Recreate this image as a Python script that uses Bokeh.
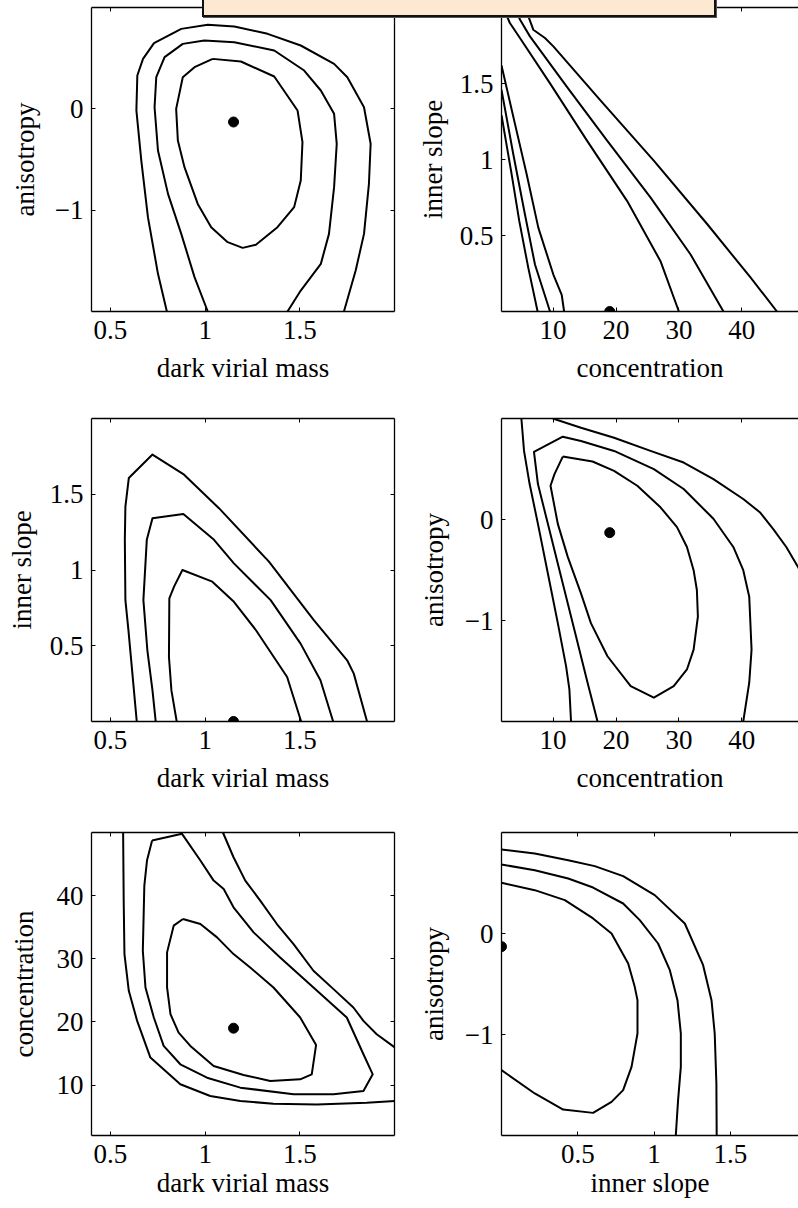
from bokeh.plotting import figure
from bokeh.models import Range1d, LinearAxis, FixedTicker, Div
from bokeh.layouts import gridplot, column
from bokeh.embed import file_html
from bokeh.resources import INLINE

# ---------------- data ----------------
# best-fit point
best_mass = 1.15
best_conc = 19.0
best_slope = 0.0
best_aniso = -0.13

# tick values
mass_ticks = [0.5, 1, 1.5]
conc_ticks = [10, 20, 30, 40]
slope_ticks = [0.5, 1, 1.5]
aniso_ticks = [-1, 0]

# Panel 1: dark virial mass vs anisotropy
p1_outer_x = [0.798, 0.751, 0.698, 0.663, 0.637, 0.642, 0.672, 0.730, 0.874, 1.014, 1.154, 1.330, 1.505, 1.681, 1.751, 1.839, 1.874, 1.865, 1.839, 1.795, 1.733]
p1_outer_y = [-2.0, -1.628, -1.069, -0.510, -0.016, 0.329, 0.493, 0.648, 0.789, 0.829, 0.813, 0.740, 0.625, 0.444, 0.312, 0.016, -0.345, -0.740, -1.234, -1.595, -2.0]
p1_mid_x = [1.014, 0.944, 0.874, 0.804, 0.751, 0.733, 0.742, 0.786, 0.882, 0.996, 1.154, 1.365, 1.523, 1.611, 1.681, 1.695, 1.681, 1.654, 1.611, 1.505, 1.435]
p1_mid_y = [-2.0, -1.661, -1.234, -0.839, -0.411, 0.016, 0.312, 0.510, 0.641, 0.674, 0.658, 0.576, 0.378, 0.181, -0.049, -0.345, -0.773, -1.234, -1.530, -1.793, -2.0]
p1_in_x = [1.040, 1.189, 1.365, 1.488, 1.514, 1.505, 1.470, 1.382, 1.268, 1.198, 1.119, 1.032, 0.961, 0.891, 0.856, 0.847, 0.882, 0.944, 1.040]
p1_in_y = [0.493, 0.467, 0.319, -0.016, -0.329, -0.707, -0.970, -1.168, -1.342, -1.372, -1.316, -1.168, -0.938, -0.576, -0.312, 0.0, 0.312, 0.411, 0.493]

# Panel 2: concentration vs inner slope
p2_a_x = [1.8, 3.40, 4.62, 6.06, 7.54]
p2_a_y = [1.291, 0.905, 0.596, 0.287, 0.0]
p2_b_x = [1.8, 3.66, 5.52, 7.12, 9.51]
p2_b_y = [1.457, 1.038, 0.640, 0.309, 0.0]
p2_c_x = [1.8, 3.93, 5.79, 7.65, 10.04, 11.37, 11.75]
p2_c_y = [1.618, 1.236, 0.905, 0.552, 0.243, 0.110, 0.0]
p2_d_x = [2.07, 3.13, 4.73, 9.51, 15.36, 21.75, 27.07, 29.99]
p2_d_y = [2.0, 1.898, 1.799, 1.501, 1.126, 0.728, 0.331, 0.0]
p2_e_x = [3.93, 4.73, 6.32, 12.17, 18.56, 25.47, 31.85, 37.07]
p2_e_y = [2.0, 1.921, 1.810, 1.479, 1.126, 0.751, 0.375, 0.0]
p2_f_x = [5.52, 6.06, 6.85, 8.71, 10.04, 17.49, 26.0, 34.51, 41.43, 45.58]
p2_f_y = [2.0, 1.943, 1.854, 1.799, 1.744, 1.391, 0.993, 0.574, 0.221, 0.0]

# Panel 3: dark virial mass vs inner slope
p3_outer_x = [0.639, 0.616, 0.595, 0.579, 0.576, 0.579, 0.597, 0.722, 0.889, 1.073, 1.337, 1.574, 1.750, 1.785, 1.855]
p3_outer_y = [0.0, 0.316, 0.603, 0.801, 1.199, 1.419, 1.607, 1.762, 1.629, 1.408, 1.055, 0.669, 0.404, 0.316, 0.0]
p3_mid_x = [0.739, 0.722, 0.695, 0.674, 0.692, 0.722, 0.885, 1.047, 1.152, 1.346, 1.504, 1.609, 1.676]
p3_mid_y = [0.0, 0.205, 0.470, 0.801, 1.199, 1.342, 1.369, 1.199, 1.044, 0.801, 0.514, 0.272, 0.0]
p3_in_x = [0.850, 0.822, 0.809, 0.811, 0.836, 0.880, 1.038, 1.152, 1.266, 1.433, 1.507]
p3_in_y = [0.0, 0.205, 0.426, 0.812, 0.890, 1.0, 0.923, 0.790, 0.607, 0.294, 0.0]

# Panel 4: concentration vs anisotropy
p4_outer1_x = [4.96, 5.38, 6.27, 7.59, 9.17, 10.75, 12.06, 12.59, 12.85]
p4_outer1_y = [1.0, 0.679, 0.351, -0.043, -0.534, -1.026, -1.452, -1.682, -2.0]
p4_outer2_x = [9.96, 14.43, 19.69, 25.48, 30.75, 35.48, 40.22, 42.85, 44.96, 47.06, 48.90, 49.96]
p4_outer2_y = [1.0, 0.908, 0.810, 0.679, 0.564, 0.400, 0.203, 0.072, -0.092, -0.272, -0.469, -0.584]
p4_mid_x = [17.06, 15.48, 13.38, 11.27, 9.17, 7.59, 6.96, 11.54, 14.43, 19.69, 26.01, 30.75, 35.48, 38.64, 40.22, 41.17, 41.54, 41.17, 40.22]
p4_mid_y = [-2.0, -1.616, -1.092, -0.567, -0.043, 0.351, 0.669, 0.820, 0.777, 0.679, 0.498, 0.302, 0.007, -0.272, -0.502, -0.764, -1.289, -1.616, -2.0]
p4_in_x = [11.54, 16.27, 19.69, 23.38, 27.06, 29.69, 31.27, 32.33, 32.85, 33.01, 32.33, 31.27, 29.17, 26.01, 22.33, 18.64, 16.01, 14.43, 12.33, 10.75, 9.59, 10.22, 11.54]
p4_in_y = [0.623, 0.574, 0.482, 0.334, 0.121, -0.075, -0.272, -0.502, -0.698, -0.961, -1.289, -1.485, -1.649, -1.764, -1.649, -1.354, -1.026, -0.731, -0.370, -0.043, 0.334, 0.449, 0.623]

# Panel 5: dark virial mass vs concentration
p5_outer1_x = [0.567, 0.570, 0.574, 0.597, 0.641, 0.711, 0.869, 1.027, 1.186, 1.361, 1.590, 1.853, 2.003]
p5_outer1_y = [50.0, 39.21, 30.74, 24.92, 20.16, 14.34, 10.11, 8.25, 7.46, 7.04, 6.93, 7.20, 7.46]
p5_outer2_x = [1.094, 1.150, 1.212, 1.291, 1.379, 1.467, 1.572, 1.678, 1.783, 1.836, 1.906, 2.003]
p5_outer2_y = [50.0, 46.08, 42.38, 39.21, 35.50, 32.33, 28.10, 25.19, 22.28, 20.16, 18.04, 15.93]
p5_mid_x = [0.720, 0.878, 0.975, 1.045, 1.098, 1.150, 1.256, 1.396, 1.572, 1.748, 1.836, 1.885, 1.836, 1.678, 1.467, 1.186, 1.010, 0.869, 0.781, 0.729, 0.685, 0.671, 0.679, 0.693, 0.720]
p5_mid_y = [48.73, 49.79, 45.56, 42.38, 41.06, 38.15, 34.18, 30.21, 25.45, 20.69, 14.87, 11.69, 9.05, 8.52, 8.52, 9.58, 11.16, 13.28, 16.19, 20.69, 25.45, 31.27, 41.59, 45.56, 48.73]
p5_in_x = [0.883, 0.975, 1.063, 1.150, 1.238, 1.361, 1.502, 1.586, 1.563, 1.502, 1.344, 1.203, 1.045, 0.922, 0.860, 0.817, 0.799, 0.799, 0.834, 0.883]
p5_in_y = [36.30, 35.50, 33.39, 30.74, 28.62, 25.45, 20.69, 16.35, 11.69, 10.90, 10.63, 11.59, 13.02, 16.19, 18.31, 21.22, 25.45, 31.01, 35.24, 36.30]

# Panel 6: inner slope vs anisotropy
p6_outer_x = [0.0, 0.218, 0.437, 0.611, 0.797, 1.004, 1.201, 1.321, 1.376, 1.397, 1.408, 1.410]
p6_outer_y = [0.832, 0.792, 0.726, 0.667, 0.568, 0.380, 0.099, -0.314, -0.660, -0.990, -1.485, -2.0]
p6_mid_x = [0.0, 0.218, 0.437, 0.600, 0.797, 0.906, 1.026, 1.103, 1.153, 1.175, 1.175, 1.157, 1.142]
p6_mid_y = [0.683, 0.627, 0.545, 0.455, 0.297, 0.132, -0.099, -0.363, -0.660, -0.990, -1.320, -1.650, -2.0]
p6_in_x = [0.0, 0.218, 0.415, 0.600, 0.721, 0.830, 0.873, 0.891, 0.891, 0.852, 0.797, 0.721, 0.600, 0.404, 0.218, 0.0]
p6_in_y = [0.502, 0.429, 0.330, 0.149, 0.0, -0.297, -0.528, -0.660, -0.990, -1.320, -1.551, -1.667, -1.776, -1.743, -1.584, -1.353]

# ---------------- styling ----------------
FONT = "Liberation Serif"
FS = "27px"


def fmt(t):
    if float(t).is_integer():
        s = str(int(t))
    else:
        s = str(t)
    return s.replace("-", "\u2212")


def style_axis(ax, ticks, show, standoff=8, label_standoff=6):
    ax.ticker = FixedTicker(ticks=ticks)
    ax.major_tick_in = 4
    ax.major_tick_out = 0
    ax.minor_tick_in = 0
    ax.minor_tick_out = 0
    ax.axis_line_color = "black"
    ax.axis_line_width = 1.3
    ax.major_tick_line_color = "black"
    ax.major_tick_line_width = 1
    if show:
        ax.major_label_overrides = {t: fmt(t) for t in ticks}
        ax.major_label_text_font = FONT
        ax.major_label_text_font_size = FS
        ax.major_label_text_color = "black"
        ax.major_label_standoff = standoff
        ax.axis_label_text_font = FONT
        ax.axis_label_text_font_size = FS
        ax.axis_label_text_font_style = "normal"
        ax.axis_label_text_color = "black"
        ax.axis_label_standoff = label_standoff
    else:
        ax.major_label_overrides = {t: "" for t in ticks}
        ax.major_label_text_font_size = "0px"
        ax.major_label_standoff = 0


def panel(width, height, xr, yr, xt, yt, xlab, ylab, bl, br, bt, bb,
          right=True, ystand=10, xstand=11):
    p = figure(width=width, height=height, x_range=Range1d(*xr), y_range=Range1d(*yr),
               output_backend="svg", toolbar_location=None, tools="",
               min_border_left=bl, min_border_right=br, min_border_top=bt, min_border_bottom=bb,
               outline_line_color=None, background_fill_color="white", border_fill_color="white")
    p.grid.visible = False
    p.xaxis.axis_label = xlab
    p.yaxis.axis_label = ylab
    style_axis(p.xaxis[0], xt, True, standoff=9, label_standoff=xstand)
    style_axis(p.yaxis[0], yt, True, standoff=8, label_standoff=ystand)
    top = LinearAxis()
    style_axis(top, xt, False)
    p.add_layout(top, "above")
    if right:
        r = LinearAxis()
        style_axis(r, yt, False)
        p.add_layout(r, "right")
    return p


def draw(p, xs, ys, bx, by):
    p.multi_line(xs=xs, ys=ys, line_color="black", line_width=2, line_join="round")
    p.scatter(x=[bx], y=[by], size=10, color="black")


LW, RW = 400, 398
H1, H2, H3 = 410, 410, 388
mass_range = (0.4, 2.0)
conc_range_x = (1.8, 49.0)
slope_range_x = (0.0, 1.946)
aniso_range = (-2.0, 1.0)
slope_range_y = (0.0, 2.0)
conc_range_y = (2.0, 50.0)

p1 = panel(LW, H1, mass_range, aniso_range, mass_ticks, aniso_ticks, "dark virial mass", "anisotropy", 90, 6, 7, 99, ystand=12)
draw(p1, [p1_outer_x, p1_mid_x, p1_in_x], [p1_outer_y, p1_mid_y, p1_in_y], best_mass, best_aniso)

p2 = panel(RW, H1, conc_range_x, slope_range_y, conc_ticks, slope_ticks, "concentration", "inner slope", 101, 0, 7, 99, right=False, ystand=9)
draw(p2, [p2_a_x, p2_b_x, p2_c_x, p2_d_x, p2_e_x, p2_f_x], [p2_a_y, p2_b_y, p2_c_y, p2_d_y, p2_e_y, p2_f_y], best_conc, best_slope)

p3 = panel(LW, H2, mass_range, slope_range_y, mass_ticks, slope_ticks, "dark virial mass", "inner slope", 90, 6, 8, 99, ystand=10)
draw(p3, [p3_outer_x, p3_mid_x, p3_in_x], [p3_outer_y, p3_mid_y, p3_in_y], best_mass, best_slope)

p4 = panel(RW, H2, conc_range_x, aniso_range, conc_ticks, aniso_ticks, "concentration", "anisotropy", 100, 0, 8, 99, right=False, ystand=13)
draw(p4, [p4_outer1_x, p4_outer2_x, p4_mid_x, p4_in_x], [p4_outer1_y, p4_outer2_y, p4_mid_y, p4_in_y], best_conc, best_aniso)

p5 = panel(LW, H3, mass_range, conc_range_y, mass_ticks, conc_ticks, "dark virial mass", "concentration", 91, 6, 12, 73, ystand=15, xstand=2)
draw(p5, [p5_outer1_x, p5_outer2_x, p5_mid_x, p5_in_x], [p5_outer1_y, p5_outer2_y, p5_mid_y, p5_in_y], best_mass, best_conc)

p6 = panel(RW, H3, slope_range_x, aniso_range, slope_ticks, aniso_ticks, "inner slope", "anisotropy", 100, 0, 12, 73, right=False, ystand=13, xstand=2)
draw(p6, [p6_outer_x, p6_mid_x, p6_in_x], [p6_outer_y, p6_mid_y, p6_in_y], best_slope, best_aniso)

grid = gridplot([[p1, p2], [p3, p4], [p5, p6]], toolbar_location=None)

banner = Div(text="", width=514, height=26, styles={
    "position": "absolute", "left": "197px", "top": "-14px",
    "width": "514px", "height": "26px", "box-sizing": "border-box",
    "background-color": "#FDE9D2", "border": "2px solid #111",
    "box-shadow": "1px 1px 0 #555", "z-index": "10"})

layout = column(banner, grid)

open("out.html", "w").write(file_html(layout, INLINE))
